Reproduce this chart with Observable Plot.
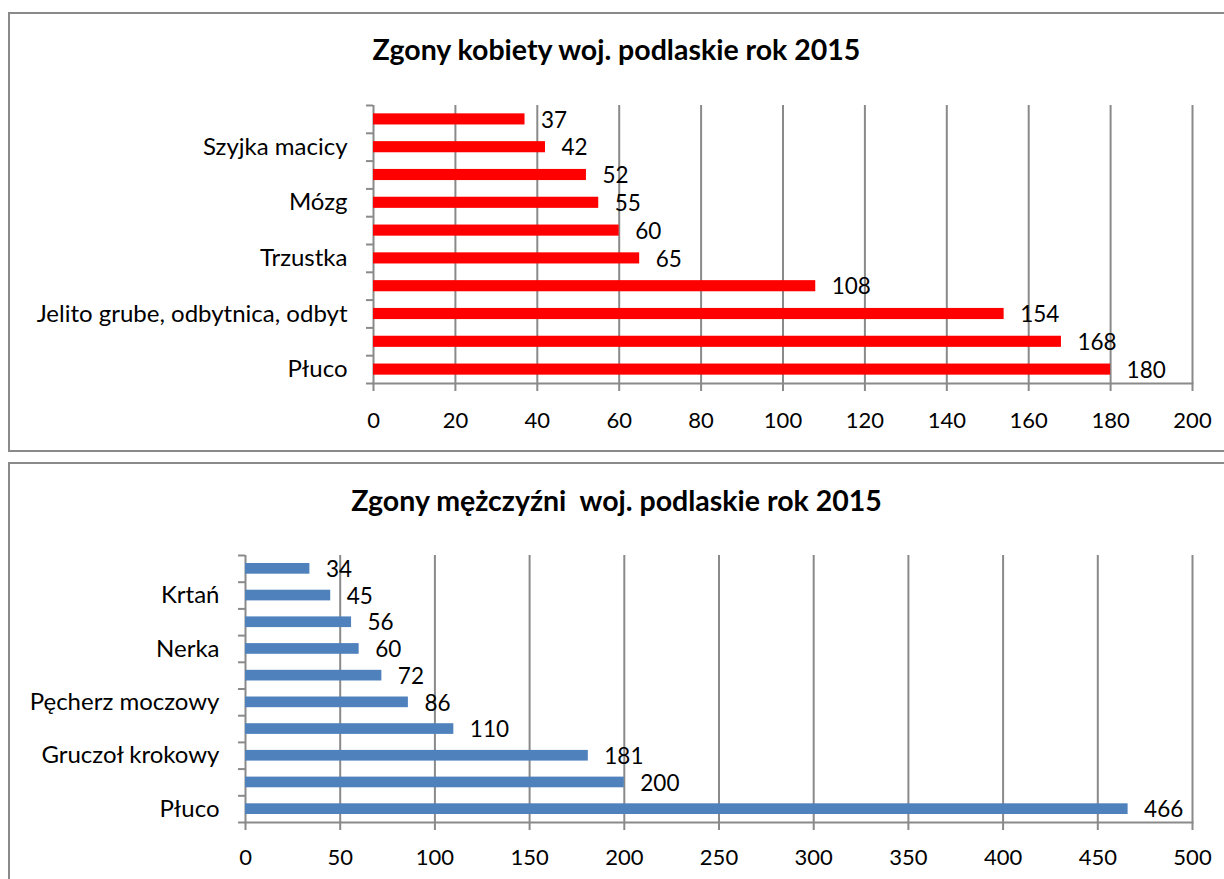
<!DOCTYPE html>
<html>
<head>
<meta charset="utf-8">
<script src="https://cdn.jsdelivr.net/npm/d3@7"></script>
<script src="https://cdn.jsdelivr.net/npm/@observablehq/plot@0.6"></script>
<style>
  html, body { margin: 0; padding: 0; overflow: hidden; background: white; }
  #page { position: relative; width: 1224px; height: 879px; overflow: hidden; font-family: Lato, sans-serif; }
  .box { position: absolute; box-sizing: border-box; border: 2px solid #8a8a8a; }
  .title { position: absolute; text-align: center; font-weight: bold; font-size: 28.5px; line-height: 28.5px; color: #000; white-space: pre; }
  .plot { position: absolute; left: 0; }
</style>
</head>
<body>
<div id="page">
  <div class="box" style="left:8px; top:12px; width:1300px; height:440px;"></div>
  <div class="box" style="left:8px; top:462px; width:1300px; height:500px;"></div>
  <div class="title" id="t1" style="left:0; width:1233px; top:35px;"></div>
  <div class="title" id="t2" style="left:0; width:1233px; top:486px;"></div>
  <div class="plot" id="p1" style="top:0;"></div>
  <div class="plot" id="p2" style="top:460px;"></div>
</div>
<script>
// ---- Data ----
const womenTitle = "Zgony kobiety woj. podlaskie rok 2015";
const womenCategories = ["Białaczka", "Szyjka macicy", "Nerka", "Mózg", "Żołądek", "Trzustka", "Jajnik", "Jelito grube, odbytnica, odbyt", "Pierś", "Płuco"];
const womenValues = [37, 42, 52, 55, 60, 65, 108, 154, 168, 180];
const womenShownLabels = ["Szyjka macicy", "Mózg", "Trzustka", "Jelito grube, odbytnica, odbyt", "Płuco"];
const womenTicks = [0, 20, 40, 60, 80, 100, 120, 140, 160, 180, 200];

const menTitle = "Zgony mężczyźni  woj. podlaskie rok 2015";
const menCategories = ["Białaczka", "Krtań", "Mózg", "Nerka", "Trzustka", "Pęcherz moczowy", "Żołądek", "Gruczoł krokowy", "Jelito grube, odbytnica, odbyt", "Płuco"];
const menValues = [34, 45, 56, 60, 72, 86, 110, 181, 200, 466];
const menShownLabels = ["Krtań", "Nerka", "Pęcherz moczowy", "Gruczoł krokowy", "Płuco"];
const menTicks = [0, 50, 100, 150, 200, 250, 300, 350, 400, 450, 500];

const GRAY = "#8a8a8a";
const FONT = "Lato, sans-serif";

function chart({cats, vals, shown, ticks, color, height, mt, mb, ml, mr, tickPad, labelPad}) {
  const data = cats.map((c, i) => ({cat: c, value: vals[i]}));
  const width = 1224;
  const xMax = ticks[ticks.length - 1];
  const step = (height - mt - mb) / cats.length;
  const pxPerUnit = (width - ml - mr) / xMax;
  const tl = 7 / pxPerUnit;
  const shownSet = new Set(shown);
  return Plot.plot({
    width, height,
    marginTop: mt, marginBottom: mb, marginLeft: ml, marginRight: mr,
    style: `background: transparent; overflow: visible; font-family: ${FONT}; font-size: 22px; color: black;`,
    x: {domain: [0, xMax], label: null},
    y: {domain: cats, paddingInner: 0.6, paddingOuter: 0.3, round: false, label: null},
    marks: [
      Plot.ruleX(ticks, {stroke: GRAY, strokeWidth: 2}),
      Plot.frame({anchor: "bottom", stroke: GRAY, strokeWidth: 2}),
      Plot.ruleY(cats, {y: d => d, x1: -tl, x2: 0, dy: step / 2, stroke: GRAY, strokeWidth: 2}),
      Plot.ruleY([cats[0]], {y: d => d, x1: -tl, x2: 0, dy: -step / 2, stroke: GRAY, strokeWidth: 2}),
      Plot.axisX({ticks, tickSize: 8, tickPadding: tickPad, stroke: GRAY, strokeWidth: 2, fill: "black", fontSize: 22, label: null}),
      Plot.axisY({tickSize: 0, tickPadding: labelPad, tickFormat: d => shownSet.has(d) ? d : "", fill: "black", fontSize: 24, label: null}),
      Plot.barX(data, {x: "value", y: "cat", fill: color}),
      Plot.text(data, {x: "value", y: "cat", text: d => String(d.value), textAnchor: "start", dx: 16, dy: 1, fill: "black", fontSize: 22.5})
    ]
  });
}

document.getElementById("t1").textContent = womenTitle;
document.getElementById("t2").textContent = menTitle;

document.getElementById("p1").appendChild(chart({
  cats: womenCategories, vals: womenValues, shown: womenShownLabels, ticks: womenTicks,
  color: "#ff0000", height: 450, mt: 105, mb: 67, ml: 373, mr: 32, tickPad: 21, labelPad: 26
}));
document.getElementById("p2").appendChild(chart({
  cats: menCategories, vals: menValues, shown: menShownLabels, ticks: menTicks,
  color: "#4f81bd", height: 419, mt: 95, mb: 57, ml: 245, mr: 32, tickPad: 19, labelPad: 26
}));
</script>
</body>
</html>
